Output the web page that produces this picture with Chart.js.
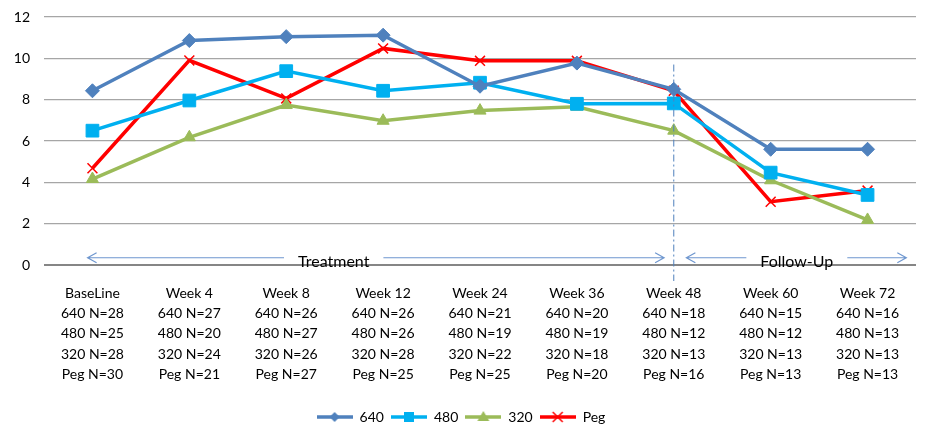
<!DOCTYPE html>
<html lang="en">
<head>
    <meta charset="UTF-8">
    <title>Scores by visit</title>
    <script src="https://cdn.jsdelivr.net/npm/chart.js"></script>
    <style>
        html, body { margin: 0; padding: 0; background: #fff; }
        #wrap { width: 926px; height: 427px; }
    </style>
</head>
<body>
    <div id="wrap"><canvas id="scoreChart"></canvas></div>

    <script>
        // visits
        const visits = ['BaseLine', 'Week 4', 'Week 8', 'Week 12', 'Week 24', 'Week 36', 'Week 48', 'Week 60', 'Week 72'];

        // subjects per visit, per arm
        const n640 = [28, 27, 26, 26, 21, 20, 18, 15, 16];
        const n480 = [25, 20, 27, 26, 19, 19, 12, 12, 13];
        const n320 = [28, 24, 26, 28, 22, 18, 13, 13, 13];
        const nPeg = [30, 21, 27, 25, 25, 20, 16, 13, 13];

        // mean scores
        const score640 = [8.43, 10.86, 11.05, 11.12, 8.65, 9.77, 8.5, 5.6, 5.6];
        const score480 = [6.5, 7.96, 9.38, 8.43, 8.82, 7.8, 7.82, 4.47, 3.39];
        const score320 = [4.16, 6.18, 7.74, 6.98, 7.47, 7.66, 6.5, 4.1, 2.18];
        const scorePeg = [4.68, 9.9, 8.06, 10.48, 9.88, 9.88, 8.43, 3.06, 3.6];

        const yTicks = [0, 2, 4, 6, 8, 10, 12];

        const labels = visits.map((v, i) => [
            v,
            '640 N=' + n640[i],
            '480 N=' + n480[i],
            '320 N=' + n320[i],
            'Peg N=' + nPeg[i]
        ]);

        const FONT = 'Lato, "Open Sans", sans-serif';

        // small line + marker picture for the legend
        function legendIcon(color, shape) {
            const c = document.createElement('canvas');
            c.width = 36; c.height = 14;
            const g = c.getContext('2d');
            g.strokeStyle = color; g.fillStyle = color; g.lineWidth = 3.5;
            g.beginPath(); g.moveTo(0, 7); g.lineTo(36, 7); g.stroke();
            g.beginPath();
            if (shape === 'rectRot') {
                g.moveTo(18, 2); g.lineTo(23, 7); g.lineTo(18, 12); g.lineTo(13, 7); g.closePath(); g.fill();
            } else if (shape === 'rect') {
                g.fillRect(13, 2, 10, 10);
            } else if (shape === 'triangle') {
                g.moveTo(18, 1); g.lineTo(24, 11); g.lineTo(12, 11); g.closePath(); g.fill();
            } else {
                g.lineWidth = 1.5;
                g.moveTo(13, 2); g.lineTo(23, 12); g.moveTo(23, 2); g.lineTo(13, 12); g.stroke();
            }
            return c;
        }

        function series(label, data, color, shape, radius) {
            return {
                label: label,
                data: data,
                borderColor: color,
                backgroundColor: color,
                borderWidth: 3.5,
                pointStyle: shape,
                pointRadius: radius,
                pointHoverRadius: radius,
                pointBorderWidth: shape === 'crossRot' ? 1.5 : 1,
                tension: 0,
                icon: legendIcon(color, shape)
            };
        }

        // dash-dot divider at Week 48 and the two phase arrows
        const phasePlugin = {
            id: 'phases',
            afterDatasetsDraw(chart) {
                const ctx = chart.ctx;
                const x = chart.scales.x, y = chart.scales.y;
                ctx.save();

                const xd = x.getPixelForValue(6);
                ctx.strokeStyle = '#4F81BD';
                ctx.lineWidth = 1;
                ctx.setLineDash([7, 3, 2, 3]);
                ctx.beginPath();
                ctx.moveTo(xd, y.getPixelForValue(9.7));
                ctx.lineTo(xd, chart.chartArea.bottom + 16);
                ctx.stroke();
                ctx.setLineDash([]);

                const ay = y.getPixelForValue(0.35);
                ctx.font = '16px ' + FONT;
                ctx.textAlign = 'center';
                ctx.textBaseline = 'middle';

                function arrow(from, to, text, textAt) {
                    const x0 = x.getPixelForValue(from), x1 = x.getPixelForValue(to);
                    const xt = x.getPixelForValue(textAt);
                    const half = ctx.measureText(text).width / 2 + 14;
                    ctx.strokeStyle = '#6F97CF';
                    ctx.lineWidth = 1.2;
                    ctx.beginPath();
                    ctx.moveTo(x0, ay); ctx.lineTo(xt - half, ay);
                    ctx.moveTo(xt + half, ay); ctx.lineTo(x1, ay);
                    ctx.moveTo(x0 + 9, ay - 5); ctx.lineTo(x0, ay); ctx.lineTo(x0 + 9, ay + 5);
                    ctx.moveTo(x1 - 9, ay - 5); ctx.lineTo(x1, ay); ctx.lineTo(x1 - 9, ay + 5);
                    ctx.stroke();
                    ctx.fillStyle = '#000';
                    ctx.fillText(text, xt, ay + 4);
                }
                arrow(-0.05, 5.9, 'Treatment', 2.49);
                arrow(6.13, 8.4, 'Follow-Up', 7.27);
                ctx.restore();
            }
        };

        const ctx = document.getElementById('scoreChart').getContext('2d');
        const scoreChart = new Chart(ctx, {
            type: 'line',
            data: {
                labels: labels,
                datasets: [
                    series('640', score640, '#4F81BD', 'rectRot', 7),
                    series('480', score480, '#00B0F0', 'rect', 9),
                    series('320', score320, '#9BBB59', 'triangle', 7),
                    series('Peg', scorePeg, '#FF0000', 'crossRot', 7)
                ]
            },
            options: {
                responsive: true,
                maintainAspectRatio: false,
                animation: false,
                layout: { padding: { top: 0, right: 8, left: 4, bottom: -7 } },
                plugins: {
                    tooltip: { enabled: false },
                    legend: {
                        position: 'bottom',
                        labels: {
                            usePointStyle: true,
                            pointStyleWidth: 36,
                            boxHeight: 14,
                            padding: 7,
                            color: '#000',
                            font: { family: FONT, size: 14 },
                            generateLabels(chart) {
                                return chart.data.datasets.map((ds, i) => ({
                                    text: ds.label,
                                    pointStyle: ds.icon,
                                    fillStyle: ds.borderColor,
                                    strokeStyle: ds.borderColor,
                                    lineWidth: 0,
                                    hidden: false,
                                    datasetIndex: i,
                                    fontColor: '#000'
                                }));
                            }
                        }
                    }
                },
                scales: {
                    x: {
                        offset: true,
                        grid: { display: false },
                        border: { display: false },
                        ticks: {
                            color: '#000',
                            padding: 10,
                            maxRotation: 0,
                            autoSkip: false,
                            font: { family: FONT, size: 14, lineHeight: 1.45 }
                        },
                        afterFit(scale) { scale.height = 138; }
                    },
                    y: {
                        min: 0,
                        max: 12,
                        afterBuildTicks(scale) { scale.ticks = yTicks.map(v => ({ value: v })); },
                        border: { display: false },
                        grid: {
                            drawTicks: false,
                            color: c => c.tick && c.tick.value === 0 ? '#868686' : '#A6A6A6',
                            lineWidth: c => c.tick && c.tick.value === 0 ? 2 : 1.2
                        },
                        ticks: {
                            color: '#000',
                            padding: 14,
                            font: { family: FONT, size: 14 }
                        },
                        afterFit(scale) {
                            scale.width = 40;
                            scale.paddingTop = 17;
                        }
                    }
                }
            },
            plugins: [phasePlugin]
        });
    </script>
</body>
</html>
